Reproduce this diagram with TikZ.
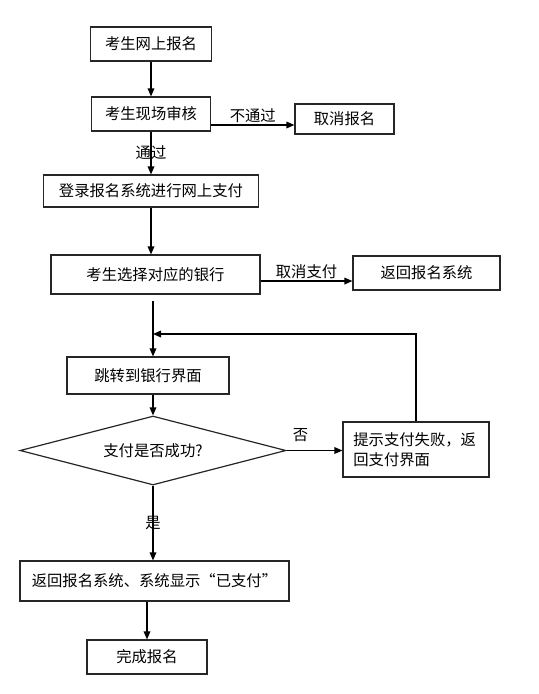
\documentclass[tikz,border=0pt]{standalone}
\usepackage{fontspec}
\setmainfont{Noto Sans CJK SC}
\usepackage{tikz}
\usetikzlibrary{arrows.meta,positioning,shapes.geometric,calc}

\begin{document}
\begin{tikzpicture}[x=0.75pt,y=-0.75pt,
  font=\fontsize{11.5}{15}\selectfont,
  box/.style={draw=black!85,line width=0.9pt,inner sep=0pt,align=center},
  arr/.style={line width=0.9pt,-{Triangle[length=6pt,width=5pt]}},
  lbl/.style={inner sep=1pt}]
  \useasboundingbox (0,0) rectangle (539,694);
  \node[box,minimum width=90.75pt,minimum height=25.5pt] (bm) at (151,44) {考生网上报名};
  \node[box,minimum width=89.25pt,minimum height=25.5pt] (sh) at (151,114) {考生现场审核};
  \node[box,minimum width=74.25pt,minimum height=22.5pt] (qx) at (344.5,119) {取消报名};
  \node[box,minimum width=161.25pt,minimum height=24pt] (zf) at (151,191) {登录报名系统进行网上支付};
  \node[box,minimum width=156.75pt,minimum height=29.25pt] (xz) at (155.5,274.5) {考生选择对应的银行};
  \node[box,minimum width=110.25pt,minimum height=25.5pt] (fh) at (426.5,273) {返回报名系统};
  \node[box,minimum width=121.5pt,minimum height=27.75pt] (tz) at (148,375.5) {跳转到银行界面};
  \node[box,diamond,aspect=3.85,minimum width=199.5pt,minimum height=51.75pt] (cg) at (153,450.5) {支付是否成功?};
  \node[box,minimum width=109.5pt,minimum height=41.25pt,text width=94pt,align=left] (ts) at (416,449.5) {提示支付失败，返\\回支付界面};
  \node[box,minimum width=201.75pt,minimum height=30pt] (xs) at (154.5,581) {返回报名系统、系统显示“已支付”};
  \node[box,minimum width=90pt,minimum height=25.5pt] (wc) at (147,657) {完成报名};
  \coordinate (hj) at (153,334);

  \draw[arr] (bm) -- (bm |- sh.north);
  \draw[arr] ([yshift=-8.25pt]sh.east) -- ([yshift=-8.25pt]sh.east -| qx.west) node[midway,above,lbl] {不通过};
  \draw[arr] (sh) -- (sh |- zf.north) node[midway,lbl] {通过};
  \draw[arr] (zf) -- (zf |- xz.north);
  \draw[arr] ([yshift=-4.9pt]xz.east) -- ([yshift=-4.9pt]xz.east -| fh.west) node[midway,above,lbl] {取消支付};
  \draw[arr] ([yshift=-4.5pt]xz.south -| hj) -- (hj |- tz.north);
  \draw[arr] (ts) |- (hj);
  \draw[arr] (cg.north |- tz.south) -- (cg.north);
  \draw[arr] (cg.east) -- (cg.east -| ts.west) node[pos=0.25,above=5pt,lbl] {否};
  \draw[arr] (cg.south) -- (cg.south |- xs.north) node[midway,lbl] {是};
  \draw[arr] (xs.south -| wc) -- (wc.north);
\end{tikzpicture}
\end{document}
